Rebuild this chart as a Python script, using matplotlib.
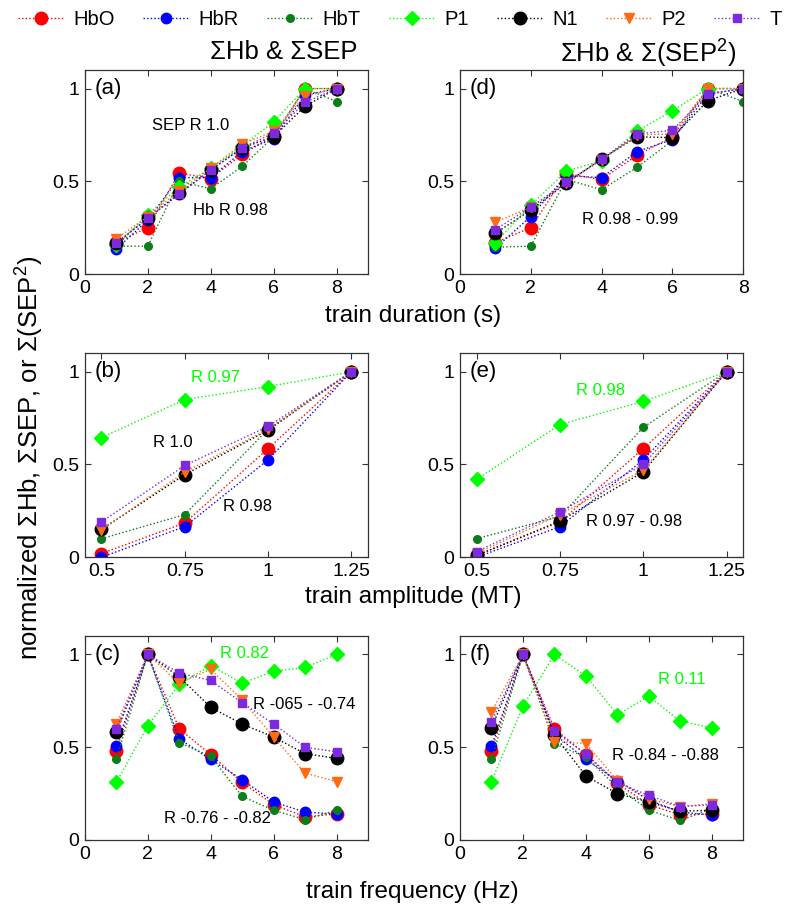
import numpy as np
import matplotlib.pyplot as plt
from matplotlib.lines import Line2D

plt.rcParams['font.family'] = ['Liberation Sans', 'DejaVu Sans']
plt.rcParams['mathtext.fontset'] = 'custom'
plt.rcParams['mathtext.rm'] = 'Liberation Sans'

# series (legend order)
names = ['HbO', 'HbR', 'HbT', 'P1', 'N1', 'P2', 'T']
colors = ['#ff0000', '#0000ff', '#0b7d1a', '#00ff00', '#000000', '#ff6a14', '#7c2ae0']
markers = ['o', 'o', 'o', 'D', 'o', 'v', 's']
msizes = [9, 7.5, 5.5, 7, 9, 7, 5.5]

duration = [1, 2, 3, 4, 5, 6, 7, 8]
amplitude = [0.5, 0.75, 1.0, 1.25]
frequency = [1, 2, 3, 4, 5, 6, 7, 8]

# (a) duration, sum
dur_sum = {
    'HbO': [0.17, 0.25, 0.545, 0.515, 0.645, 0.745, 1.0, 1.0],
    'HbR': [0.135, 0.29, 0.52, 0.52, 0.66, 0.73, 0.965, 1.0],
    'HbT': [0.15, 0.15, 0.50, 0.46, 0.58, 0.74, 1.0, 0.93],
    'P1': [0.155, 0.32, 0.47, 0.57, 0.69, 0.82, 1.0, 1.0],
    'N1': [0.165, 0.30, 0.435, 0.56, 0.68, 0.74, 0.905, 1.0],
    'P2': [0.19, 0.31, 0.45, 0.57, 0.70, 0.77, 0.96, 1.0],
    'T': [0.17, 0.30, 0.43, 0.56, 0.68, 0.76, 0.925, 1.0],
}
# (d) duration, sum of squares
dur_sq = {
    'HbO': [0.17, 0.25, 0.54, 0.51, 0.64, 0.74, 1.0, 1.0],
    'HbR': [0.14, 0.31, 0.53, 0.52, 0.66, 0.725, 0.97, 1.0],
    'HbT': [0.145, 0.15, 0.51, 0.455, 0.575, 0.72, 1.0, 0.93],
    'P1': [0.17, 0.37, 0.555, 0.61, 0.77, 0.88, 1.0, 1.0],
    'N1': [0.22, 0.345, 0.49, 0.62, 0.74, 0.735, 0.935, 1.0],
    'P2': [0.28, 0.36, 0.49, 0.615, 0.75, 0.755, 1.0, 1.0],
    'T': [0.24, 0.36, 0.495, 0.62, 0.755, 0.775, 0.97, 1.0],
}
# (b) amplitude, sum
amp_sum = {
    'HbO': [0.02, 0.185, 0.585, 1.0],
    'HbR': [0.0, 0.165, 0.525, 1.0],
    'HbT': [0.10, 0.23, 0.69, 1.0],
    'P1': [0.645, 0.85, 0.92, 1.0],
    'N1': [0.15, 0.445, 0.685, 1.0],
    'P2': [0.145, 0.46, 0.69, 1.0],
    'T': [0.19, 0.495, 0.705, 1.0],
}
# (e) amplitude, sum of squares
amp_sq = {
    'HbO': [0.01, 0.19, 0.585, 1.0],
    'HbR': [0.0, 0.165, 0.525, 1.0],
    'HbT': [0.10, 0.22, 0.70, 1.0],
    'P1': [0.42, 0.715, 0.84, 1.0],
    'N1': [0.01, 0.195, 0.46, 1.0],
    'P2': [0.02, 0.23, 0.47, 1.0],
    'T': [0.03, 0.245, 0.50, 1.0],
}
# (c) frequency, sum
freq_sum = {
    'HbO': [0.48, 1.0, 0.60, 0.46, 0.31, 0.19, 0.125, 0.14],
    'HbR': [0.505, 1.0, 0.545, 0.435, 0.325, 0.205, 0.15, 0.14],
    'HbT': [0.435, 1.0, 0.525, 0.45, 0.235, 0.16, 0.11, 0.16],
    'P1': [0.31, 0.615, 0.84, 0.94, 0.845, 0.91, 0.93, 1.0],
    'N1': [0.58, 1.0, 0.88, 0.715, 0.625, 0.555, 0.465, 0.44],
    'P2': [0.625, 1.0, 0.845, 0.92, 0.755, 0.555, 0.36, 0.315],
    'T': [0.60, 1.0, 0.90, 0.86, 0.74, 0.625, 0.50, 0.475],
}
# (f) frequency, sum of squares
freq_sq = {
    'HbO': [0.48, 1.0, 0.60, 0.46, 0.305, 0.19, 0.135, 0.14],
    'HbR': [0.505, 1.0, 0.57, 0.435, 0.32, 0.215, 0.15, 0.135],
    'HbT': [0.435, 1.0, 0.52, 0.445, 0.285, 0.16, 0.105, 0.17],
    'P1': [0.315, 0.72, 1.0, 0.885, 0.675, 0.775, 0.64, 0.605],
    'N1': [0.605, 1.0, 0.565, 0.345, 0.25, 0.205, 0.155, 0.16],
    'P2': [0.69, 1.0, 0.53, 0.52, 0.32, 0.22, 0.18, 0.195],
    'T': [0.635, 1.0, 0.585, 0.465, 0.31, 0.24, 0.18, 0.19],
}

dots = (0, (1, 1.6))

fig = plt.figure(figsize=(8, 9.15), dpi=100)

# axes boxes in figure fractions (left, bottom, width, height)
left_col, right_col, w = 0.106, 0.575, 0.354
rows = [0.7005, 0.391, 0.082]
h = 0.223


def draw(ax, x, vals, xlim, xticks, xticklabels):
    for n, c, m, s in zip(names, colors, markers, msizes):
        ax.plot(x, vals[n], linestyle=dots, lw=1.0, color=c, marker=m,
                markersize=s, markerfacecolor=c, markeredgecolor=c)
    ax.set_xlim(*xlim)
    ax.set_ylim(0, 1.1)
    ax.set_xticks(xticks)
    ax.set_xticklabels(xticklabels)
    ax.set_yticks([0, 0.5, 1])
    ax.set_yticklabels(['0', '0.5', '1'])
    ax.tick_params(direction='in', top=True, right=True, length=4,
                   labelsize=14, pad=4, color='#333333')
    for sp in ax.spines.values():
        sp.set_color('#333333')
        sp.set_linewidth(0.9)


panels = [
    ('(a)', left_col, rows[0], duration, dur_sum, (0, 9), [0, 2, 4, 6, 8], ['0', '2', '4', '6', '8']),
    ('(d)', right_col, rows[0], duration, dur_sq, (0, 8), [0, 2, 4, 6, 8], ['0', '2', '4', '6', '8']),
    ('(b)', left_col, rows[1], amplitude, amp_sum, (0.45, 1.3), [0.5, 0.75, 1, 1.25], ['0.5', '0.75', '1', '1.25']),
    ('(e)', right_col, rows[1], amplitude, amp_sq, (0.45, 1.3), [0.5, 0.75, 1, 1.25], ['0.5', '0.75', '1', '1.25']),
    ('(c)', left_col, rows[2], frequency, freq_sum, (0, 9), [0, 2, 4, 6, 8], ['0', '2', '4', '6', '8']),
    ('(f)', right_col, rows[2], frequency, freq_sq, (0, 9), [0, 2, 4, 6, 8], ['0', '2', '4', '6', '8']),
]

axes = {}
for lab, l, b, x, vals, xlim, xt, xtl in panels:
    ax = fig.add_axes([l, b, w, h])
    draw(ax, x, vals, xlim, xt, xtl)
    ax.text(0.035, 0.909, lab, transform=ax.transAxes, fontsize=16,
            ha='left', va='center')
    axes[lab] = ax

# annotations
fs = 12
axes['(a)'].text(3.35, 0.80, 'SEP R 1.0', fontsize=fs, ha='center', va='center')
axes['(a)'].text(4.63, 0.343, 'Hb R 0.98', fontsize=fs, ha='center', va='center')
axes['(d)'].text(4.81, 0.293, 'R 0.98 - 0.99', fontsize=fs, ha='center', va='center')
axes['(b)'].text(0.843, 0.97, 'R 0.97', fontsize=fs, ha='center', va='center', color='#00ff00')
axes['(b)'].text(0.714, 0.616, 'R 1.0', fontsize=fs, ha='center', va='center')
axes['(b)'].text(0.9375, 0.273, 'R 0.98', fontsize=fs, ha='center', va='center')
axes['(e)'].text(0.871, 0.90, 'R 0.98', fontsize=fs, ha='center', va='center', color='#00ff00')
axes['(e)'].text(0.971, 0.193, 'R 0.97 - 0.98', fontsize=fs, ha='center', va='center')
axes['(c)'].text(5.07, 1.005, 'R 0.82', fontsize=fs, ha='center', va='center', color='#00ff00')
axes['(c)'].text(6.98, 0.733, 'R -065 - -0.74', fontsize=fs, ha='center', va='center')
axes['(c)'].text(4.22, 0.117, 'R -0.76 - -0.82', fontsize=fs, ha='center', va='center')
axes['(f)'].text(7.04, 0.865, 'R 0.11', fontsize=fs, ha='center', va='center', color='#00ff00')
axes['(f)'].text(6.53, 0.456, 'R -0.84 - -0.88', fontsize=fs, ha='center', va='center')

# column titles and shared labels
fig.text(0.355, 0.943, 'ΣHb & ΣSEP', fontsize=18.5, ha='center', va='center')
fig.text(0.81, 0.943, 'ΣHb & Σ(SEP$^2$)', fontsize=18.5, ha='center', va='center')
fig.text(0.516, 0.655, 'train duration (s)', fontsize=17.5, ha='center', va='center')
fig.text(0.516, 0.347, 'train amplitude (MT)', fontsize=17.5, ha='center', va='center')
fig.text(0.516, 0.025, 'train frequency (Hz)', fontsize=17.5, ha='center', va='center')
fig.text(0.036, 0.50, 'normalized ΣHb, ΣSEP, or Σ(SEP$^2$)', fontsize=18.5,
         ha='center', va='center', rotation=90)

handles = [Line2D([], [], linestyle=dots, lw=1.0, color=c, marker=m, markersize=s,
                  markerfacecolor=c, markeredgecolor=c)
           for c, m, s in zip(colors, markers, msizes)]
fig.legend(handles, names, loc='upper center', bbox_to_anchor=(0.5, 1.0), ncol=7,
           frameon=False, fontsize=14.5, handlelength=2.3, handletextpad=0.45,
           columnspacing=1.4, borderaxespad=0.2, borderpad=0.3)

fig.savefig('out.png', dpi=100)
